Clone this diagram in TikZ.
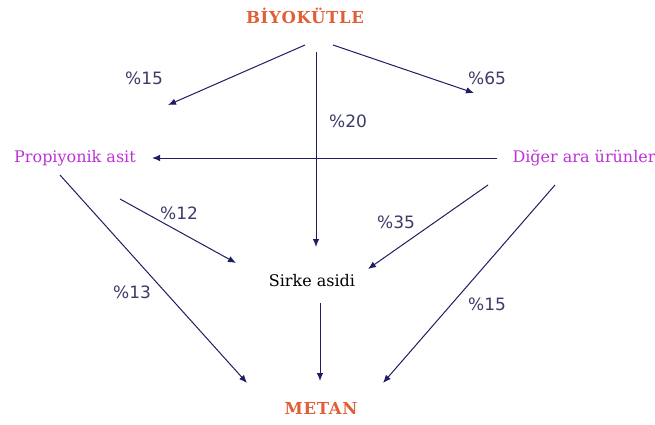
\documentclass[tikz,border=0pt]{standalone}
\usepackage{fontspec}
\setmainfont{DejaVu Serif}
\newfontfamily\pctfont{DejaVu Sans}
\newfontfamily\headfont[LetterSpace=4]{DejaVu Serif Bold}
\usetikzlibrary{arrows.meta}
\definecolor{arrc}{RGB}{30,30,100}
\definecolor{orgc}{RGB}{225,95,55}
\definecolor{magc}{RGB}{190,50,215}
\definecolor{pctc}{RGB}{60,60,105}
\begin{document}
\begin{tikzpicture}[x=1pt,y=-1pt,
  flow/.style={draw=arrc, line width=1pt, -{Latex[length=8pt,width=6.5pt]}},
  main/.style={text=orgc, font=\headfont\fontsize{16.5}{19}\selectfont, inner sep=0pt},
  mid/.style={text=magc, font=\fontsize{16}{18}\selectfont, inner sep=0pt},
  plain/.style={text=black, font=\fontsize{16}{18}\selectfont, inner sep=0pt},
  pct/.style={text=pctc, font=\pctfont\fontsize{17}{19}\selectfont, inner sep=0pt}]
\useasboundingbox (0,0) rectangle (655,425);
\fill[white] (0,0) rectangle (655,425);
% nodes
\node[main] (bio) at (305,16) {BİYOKÜTLE};
\node[mid] (prop) at (75,158) {Propiyonik asit};
\node[mid] (diger) at (584,158) {Diğer ara ürünler};
\node[plain] (sirke) at (312,281) {Sirke asidi};
\node[main] (metan) at (321,408) {METAN};
% coordinates
\coordinate (b1) at (305,45);  \coordinate (e1) at (168,105);
\coordinate (b2) at (316,52);  \coordinate (e2) at (316,247);
\coordinate (b3) at (333,45);  \coordinate (e3) at (474,93);
\coordinate (d0) at (497,158); \coordinate (p0) at (152,158);
\coordinate (p1) at (60,175);  \coordinate (m1) at (247,383);
\coordinate (p2) at (120,199); \coordinate (s2) at (236,263);
\coordinate (d1) at (488,185); \coordinate (s3) at (368,269);
\coordinate (d2) at (555,185); \coordinate (m3) at (383,383);
\coordinate (s4) at (320,303); \coordinate (m2) at (320,381);
% arrows
\draw[flow] (b1) -- (e1);
\draw[flow] (b2) -- (e2);
\draw[flow] (b3) -- (e3);
\draw[flow] (d0) -- (p0);
\draw[flow] (p1) -- (m1);
\draw[flow] (p2) -- (s2);
\draw[flow] (d1) -- (s3);
\draw[flow] (d2) -- (m3);
\draw[flow] (s4) -- (m2);
% labels
\node[pct] (l15a) at (144,78) {\%15};
\node[pct] (l65) at (487,78) {\%65};
\node[pct] (l20) at (348,121) {\%20};
\node[pct] (l12) at (179,213) {\%12};
\node[pct] (l13) at (132,292) {\%13};
\node[pct] (l35) at (396,222) {\%35};
\node[pct] (l15b) at (487,304) {\%15};
\end{tikzpicture}
\end{document}
